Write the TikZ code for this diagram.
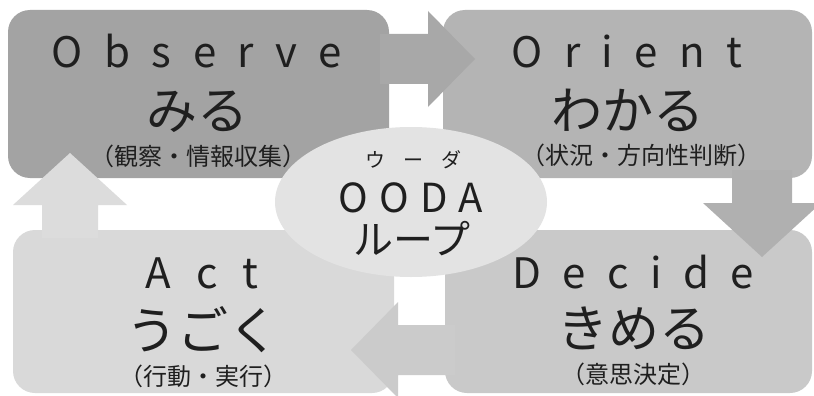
\documentclass[tikz,border=0pt]{standalone}
\usepackage{fontspec}
\setmainfont{Noto Sans CJK JP}
\usetikzlibrary{shapes.geometric}
\definecolor{cObs}{HTML}{A3A3A3}
\definecolor{cOri}{HTML}{B4B4B4}
\definecolor{cDec}{HTML}{C9C9C9}
\definecolor{cAct}{HTML}{D9D9D9}
\definecolor{cEll}{HTML}{E3E3E3}
\definecolor{cA1}{HTML}{A8A8A8}
\definecolor{cA2}{HTML}{B0B0B0}
\definecolor{cA3}{HTML}{CBCBCB}
\definecolor{cA4}{HTML}{DCDCDC}
\newcommand\trk{\hspace{21.5pt}}
\newcommand\trkd{\hspace{25pt}}
\newcommand\trkb{\hspace{11pt}}
\newcommand\trkc{\hspace{18pt}}
\begin{document}
\begin{tikzpicture}[x=1pt,y=-1pt,
  boxshape/.style={draw=none, rounded corners=22pt, inner sep=0pt},
  entext/.style={font=\fontsize{42}{46}\selectfont, anchor=base, inner sep=0pt, text=black!88},
  oodatext/.style={font=\fontsize{40}{44}\selectfont, anchor=base, inner sep=0pt, text=black!88},
  jptext/.style={font=\fontsize{51}{55}\selectfont, anchor=base, inner sep=0pt, text=black!88},
  subtext/.style={font=\fontsize{24}{26}\selectfont, anchor=base, inner sep=0pt, text=black!88},
  smalltext/.style={font=\fontsize{20}{22}\selectfont, anchor=base, inner sep=0pt, text=black!88}]
\useasboundingbox[fill=white] (0,0) rectangle (814,396);
% boxes
\node[boxshape, fill=cObs, minimum width=381pt, minimum height=168pt] (obs) at (198.5,94) {};
\node[boxshape, fill=cOri, minimum width=369pt, minimum height=168pt] (ori) at (627.5,94) {};
\node[boxshape, fill=cAct, minimum width=381pt, minimum height=163pt] (act) at (203.5,311.5) {};
\node[boxshape, fill=cDec, minimum width=367pt, minimum height=163pt] (dec) at (628.5,311.5) {};
% block arrows
\fill[cA1] (380,34) -- (428,34) -- (428,11) -- (475,59) -- (428,107) -- (428,84) -- (380,84) -- cycle;
\fill[cA2] (732,170) -- (732,203) -- (703,203) -- (762,257) -- (821,203) -- (792,203) -- (792,170) -- cycle;
\fill[cA3] (455,325) -- (398,325) -- (398,302) -- (351,350) -- (398,398) -- (398,375) -- (455,375) -- cycle;
\fill[cA4] (42,238) -- (42,205) -- (13,205) -- (70,153) -- (127,205) -- (98,205) -- (98,238) -- cycle;
% ellipse
\node[ellipse, fill=cEll, minimum width=272pt, minimum height=150pt, inner sep=0pt] (ooda) at (411,202) {};
% texts
\node[entext] (obsE) at (197,68) {O\trk b\trk s\trk e\trk r\trk v\trk e};
\node[jptext] (obsJ) at (197,129) {みる};
\node[subtext] (obsS) at (198,165) {（観察・情報収集）};
\node[entext] (oriE) at (627,68) {O\trk r\trk i\trk e\trk n\trk t};
\node[jptext] (oriJ) at (628,129) {わかる};
\node[subtext] (oriS) at (641,164) {（状況・方向性判断）};
\node[entext] (actE) at (202,288) {A\trkd c\trkd t};
\node[jptext] (actJ) at (203,349) {うごく};
\node[subtext] (actS) at (203,385) {（行動・実行）};
\node[entext] (decE) at (633,288) {D\trk e\trk c\trk i\trk d\trk e};
\node[jptext] (decJ) at (634,347) {きめる};
\node[subtext] (decS) at (633,383) {（意思決定）};
\node[smalltext] (kana) at (413,167) {ウ\trkc ー\trkc ダ};
\node[oodatext] (oodaE) at (411,212) {O\trkb O\trkb D\trkb A};
\node[oodatext] (loop) at (412,254) {ループ};
\end{tikzpicture}
\end{document}
